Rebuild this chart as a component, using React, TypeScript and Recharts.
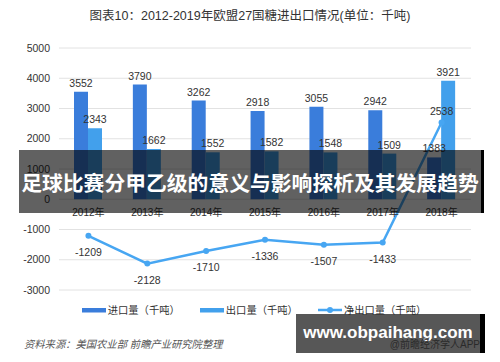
import React from 'react';
import { ComposedChart, Bar, Line, XAxis, YAxis, CartesianGrid, LabelList, Legend } from 'recharts';

const years = ['2012年', '2013年', '2014年', '2015年', '2016年', '2017年', '2018年'];
const imports = [3552, 3790, 3262, 2918, 3055, 2942, 1383];
const exportsV = [2343, 1662, 1552, 1582, 1548, 1509, 3921];
const net = [-1209, -2128, -1710, -1336, -1507, -1433, 2538];
const yTicks = [-3000, -2000, -1000, 0, 1000, 2000, 3000, 4000, 5000];

const seriesNames = ['进口量（千吨）', '出口量（千吨）', '净出口量（千吨）'];
const title = '图表10：2012-2019年欧盟27国糖进出口情况(单位：千吨)';
const source = '资料来源：美国农业部 前瞻产业研究院整理';
const bannerText = '足球比赛分甲乙级的意义与影响探析及其发展趋势';
const siteText = 'www.obpaihang.com';
const appText = '@前瞻经济学人APP';

const C_IMP = '#3A7DDB';
const C_EXP = '#42A0EC';
const C_NET = '#47A6F2';

const FONT = '"Liberation Sans", "Noto Sans CJK SC", sans-serif';

const data = years.map((y, i) => ({ year: y, imp: imports[i], exp: exportsV[i], net: net[i] }));

const NetLabel = (props: any) => {
  const { x, y, value } = props;
  const above = value > 0;
  return (
    <text x={x} y={above ? y - 11 : y + 16} textAnchor="middle" dominantBaseline="central" fontSize={10.5} fill="#333" fontFamily={FONT}>
      {value}
    </text>
  );
};

const YearLabel = (props: any) => {
  const { x, y, value } = props;
  return (
    <text x={x} y={y + 13} textAnchor="middle" dominantBaseline="central" fontSize={10} fill="#333" fontFamily={FONT}>
      {value}
    </text>
  );
};

const LegendContent = (props: any) => {
  const items = (props.payload || [])
    .filter((p: any) => p.type !== 'none' && seriesNames.indexOf(p.value) >= 0)
    .slice()
    .sort((a: any, b: any) => seriesNames.indexOf(a.value) - seriesNames.indexOf(b.value));
  return (
    <div style={{ display: 'flex', justifyContent: 'center', alignItems: 'center', gap: 20, fontFamily: FONT, fontSize: 10.3, color: '#333', paddingLeft: 8 }}>
      {items.map((p: any, i: number) => (
        <div key={i} style={{ display: 'flex', alignItems: 'center' }}>
          <svg width={24} height={10} style={{ marginRight: 2 }}>
            {p.type === 'line' ? (
              <g>
                <line x1={0} y1={5} x2={24} y2={5} stroke={p.color} strokeWidth={2.5} />
                <circle cx={12} cy={5} r={3} fill={p.color} />
              </g>
            ) : (
              <rect x={0} y={3} width={24} height={4.5} fill={p.color} />
            )}
          </svg>
          <span>{p.value}</span>
        </div>
      ))}
    </div>
  );
};

export default function App() {
  return (
    <div style={{ position: 'absolute', left: 0, top: 0, width: 500, height: 362, background: '#fff', overflow: 'hidden', fontFamily: FONT }}>
      <div style={{ position: 'absolute', left: 0, top: 7, width: 500, textAlign: 'center', fontSize: 12.5, color: '#333', lineHeight: '18px' }}>
        {title}
      </div>
      <ComposedChart
        width={500}
        height={362}
        data={data}
        margin={{ top: 48, right: 29, bottom: 72, left: 0 }}
        barGap={0}
        style={{ position: 'absolute', left: 0, top: 0 }}
      >
        <CartesianGrid vertical={false} stroke="#e2e2e2" strokeWidth={1} />
        <XAxis dataKey="year" hide />
        <YAxis
          width={59}
          domain={[-3000, 5000]}
          ticks={yTicks}
          axisLine={false}
          tickLine={false}
          tickMargin={3}
          interval={0}
          tick={{ fontSize: 10.5, fill: '#333', fontFamily: FONT }}
        />
        <Bar dataKey="imp" name={seriesNames[0]} fill={C_IMP} barSize={14} isAnimationActive={false}>
          <LabelList dataKey="imp" position="top" fontSize={10.5} fill="#333" fontFamily={FONT} />
        </Bar>
        <Bar dataKey="exp" name={seriesNames[1]} fill={C_EXP} barSize={14} isAnimationActive={false}>
          <LabelList dataKey="exp" position="top" fontSize={10.5} fill="#333" fontFamily={FONT} />
        </Bar>
        <Line
          dataKey={() => 0}
          name="zero"
          stroke="none"
          dot={false}
          activeDot={false}
          legendType="none"
          isAnimationActive={false}
        >
          <LabelList dataKey="year" content={YearLabel} />
        </Line>
        <Line
          dataKey="net"
          name={seriesNames[2]}
          stroke={C_NET}
          strokeWidth={2.5}
          dot={{ r: 3, fill: C_NET, stroke: C_NET, strokeWidth: 0 }}
          activeDot={false}
          isAnimationActive={false}
        >
          <LabelList dataKey="net" content={NetLabel} />
        </Line>
        <Legend
          layout="horizontal"
          verticalAlign="middle"
          align="center"
          content={LegendContent}
          wrapperStyle={{ top: 302, left: 0, width: 500, height: 18 }}
        />
      </ComposedChart>
      <div style={{ position: 'absolute', left: 24, top: 337, fontSize: 10.3, fontStyle: 'italic', color: '#555', lineHeight: '16px', whiteSpace: 'nowrap' }}>
        {source}
      </div>
      <div style={{ position: 'absolute', left: 19, top: 150, width: 462, height: 63, background: 'rgba(0,0,0,0.62)', display: 'flex', alignItems: 'center', justifyContent: 'center', color: '#fff', fontWeight: 'bold', fontSize: 20.8, fontFamily: '"Noto Sans CJK SC", sans-serif', whiteSpace: 'nowrap', letterSpacing: 0 }}>
        {bannerText}
      </div>
      <div style={{ position: 'absolute', left: 481, top: 150, width: 3, height: 63, background: '#000' }} />
      <div style={{ position: 'absolute', left: 296, top: 314, width: 184, height: 39, background: 'rgba(40,40,40,0.78)' }}>
        <div style={{ position: 'absolute', left: 0, top: 9, width: 184, textAlign: 'center', color: '#fff', fontWeight: 'bold', fontSize: 17, lineHeight: '20px', fontFamily: '"Liberation Sans", sans-serif', whiteSpace: 'nowrap' }}>
          {siteText}
        </div>
        <div style={{ position: 'absolute', right: 0, top: 25, color: '#2a2a2a', fontSize: 10, lineHeight: '12px', whiteSpace: 'nowrap' }}>
          {appText}
        </div>
      </div>
      <div style={{ position: 'absolute', left: 480, top: 314, width: 5, height: 39, background: '#000' }} />
    </div>
  );
}
